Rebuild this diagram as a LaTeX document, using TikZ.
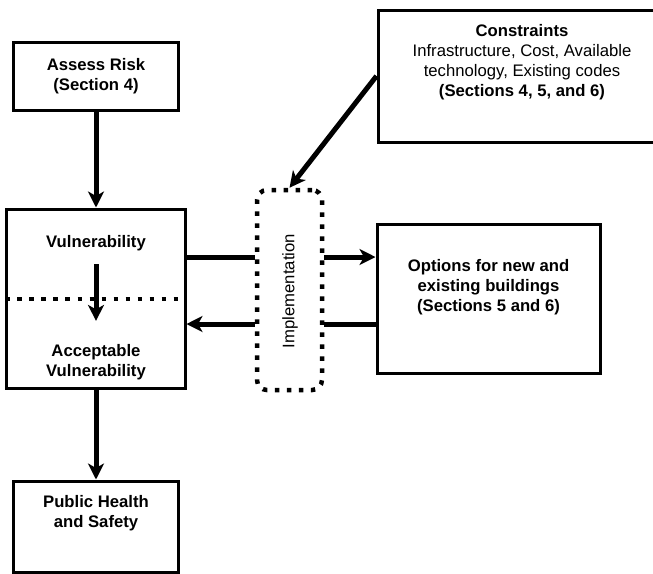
\documentclass[tikz,border=0pt]{standalone}
\usepackage{fontspec}
\setmainfont{Liberation Sans}
\usetikzlibrary{arrows.meta}

\begin{document}
\begin{tikzpicture}[x=0.2mm, y=-0.2mm,
	box/.style={draw, line width=0.6mm, inner sep=0pt},
	txt/.style={font=\fontsize{9.5}{11.5}\selectfont\bfseries, align=center},
	plain/.style={font=\fontsize{9.5}{11.5}\selectfont, align=center},
	link/.style={line width=1mm},
	arr/.style={line width=1mm, -{Stealth[length=3.2mm, width=3.2mm, inset=0.9mm]}},
	dots/.style={line width=0.9mm, dash pattern=on 0.9mm off 1.5mm}]
			%%%%% START %%%%%
			
			\useasboundingbox (0,0) rectangle (653,573);
			\clip (0,0) rectangle (653,573);
			
			\coordinate (upper) at (0,257);
			\coordinate (lower) at (0,324);
			\coordinate (split) at (0,299);
			
			\node[box, minimum width=32.8mm, minimum height=13.6mm, txt] (risk) at (96,76) {Assess Risk\\(Section 4)};
			\node[box, minimum width=35.6mm, minimum height=35.8mm] (vuln) at (96,298.5) {};
			\node[box, minimum width=32.8mm, minimum height=18.2mm] (health) at (96,526.5) {};
			\node[txt] (vtext) at (96,243) {Vulnerability};
			\node[txt] (atext) at (96,362) {Acceptable\\Vulnerability};
			\node[txt] (htext) at (96,513) {Public Health\\and Safety};
			
			\node[dots, draw, rounded corners=2mm, minimum width=13mm, minimum height=40mm] (impl) at (289.5,290) {};
			\node[plain, rotate=90] (itext) at (290,291) {Implementation};
			
			\node[box, minimum width=44.6mm, minimum height=29.8mm] (opt) at (488.5,298.5) {};
			\node[txt] (otext) at (488.5,287) {Options for new and\\existing buildings\\(Sections 5 and 6)};
			
			\node[box, minimum width=60.4mm, minimum height=26.4mm] (cons) at (529,76) {};
			\node[plain] (ctext) at (522,62) {{\bfseries Constraints}\\Infrastructure, Cost, Available\\technology, Existing codes\\{\bfseries (Sections 4, 5, and 6)}};
			
			% vertical flow
			\draw[arr] (risk.south) -- (vuln.north);
			\draw[arr] ([yshift=-1.4mm]vtext.south) -- ([yshift=3.4mm]atext.north);
			\draw[dots] (vuln.west |- split) -- (vuln.east |- split);
			\draw[arr] (vuln.south) -- (health.north);
			
			% through implementation
			\draw[link] (vuln.east |- upper) -- (impl.west |- upper);
			\draw[arr] (impl.east |- upper) -- (opt.west |- upper);
			\draw[link] (opt.west |- lower) -- (impl.east |- lower);
			\draw[arr] (impl.west |- lower) -- (vuln.east |- lower);
			\draw[arr] (cons.west) -- (impl.north);
			
			%%%%% END %%%%%
\end{tikzpicture}
\end{document}
